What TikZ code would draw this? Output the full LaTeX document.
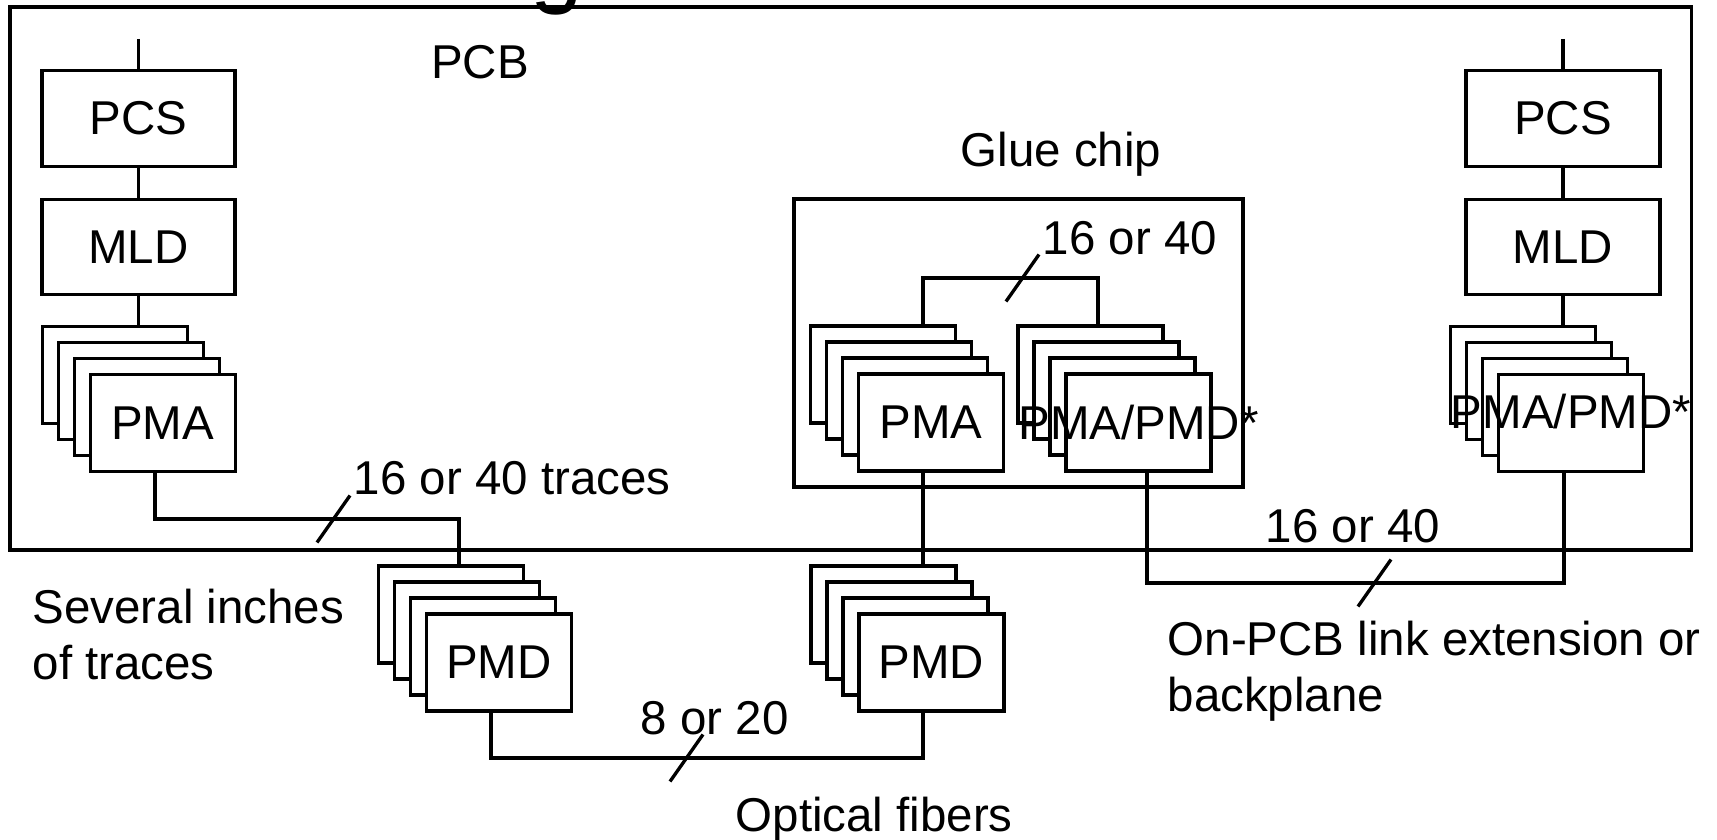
\documentclass[tikz,border=0pt]{standalone}
\usepackage{fontspec}
\setmainfont{Liberation Sans}
\usetikzlibrary{positioning}
\definecolor{pLine}{RGB}{0,0,0}
\tikzset{
	frame/.style={draw=pLine, line width=0.95pt, inner sep=0pt},
	card/.style={draw=pLine, fill=white, line width=0.95pt, inner sep=0pt,
		minimum width=1.45cm, minimum height=0.97cm,
		font=\fontsize{13.5pt}{16.2pt}\selectfont},
	lbl/.style={inner sep=0pt, font=\fontsize{13.5pt}{16.2pt}\selectfont},
	wire/.style={draw=pLine, line width=0.95pt}
}
\newcommand{\cardstack}[3]{%
	\foreach \k in {1,...,4}
		\node[card] (#1\k) at ({#2+16*(\k-1)},{#3+16*(\k-1)}) {};}
\newcommand{\slashmark}[1]{\draw[wire] (#1) ++(-16.5,23.5) -- ++(33,-47);}

\begin{document}
\begin{tikzpicture}[x=0.01cm, y=-0.01cm]
	\useasboundingbox (0,0) rectangle (1717,840);

	\node[lbl, font=\fontsize{27pt}{30pt}\selectfont, anchor=base west] (ttl) at (530,-4) {g};

	\node[frame, minimum width=16.805cm, minimum height=5.43cm] (pcb) at (850.75,278.5) {};
	\node[lbl, anchor=base] (pcbT) at (480,79) {PCB};

	% left column
	\node[card, minimum width=1.93cm, minimum height=0.955cm] (pcsL) at (138.5,118.5) {PCS};
	\node[card, minimum width=1.93cm, minimum height=0.955cm] (mldL) at (138.5,247) {MLD};
	\cardstack{pmaL}{114.75}{375}
	\node[lbl] (pmaLt) at (pmaL4) {PMA};

	% right column
	\node[card, minimum width=1.94cm, minimum height=0.955cm] (pcsR) at (1563,118.5) {PCS};
	\node[card, minimum width=1.94cm, minimum height=0.955cm] (mldR) at (1563,247) {MLD};
	\cardstack{pmaR}{1523}{375}
	\node[lbl, yshift=0.11cm] (pmaRt) at (pmaR4) {PMA/PMD*};

	% glue chip
	\node[frame, minimum width=4.49cm, minimum height=2.88cm] (glue) at (1018.5,343) {};
	\node[lbl, anchor=base west] (glueT) at (960,167) {Glue chip};
	\cardstack{pmaG}{883}{374.5}
	\node[lbl] (pmaGt) at (pmaG4) {PMA};
	\cardstack{pmpG}{1090.5}{374.5}
	\node[lbl] (pmpGt) at (pmpG4) {PMA/PMD*};

	% PMD stacks
	\cardstack{pmdL}{451}{614.5}
	\node[lbl] (pmdLt) at (pmdL4) {PMD};
	\cardstack{pmdR}{883.5}{614.5}
	\node[lbl] (pmdRt) at (pmdR4) {PMD};

	\coordinate (topL) at (138.5,39);
	\coordinate (topR) at (1563,39);
	\draw[wire] (topL) -- (pcsL.north);
	\draw[wire] (pcsL.south) -- (mldL.north);
	\draw[wire] (mldL.south) -- (mldL.south |- pmaL1.north);
	\draw[wire] (topR) -- (pcsR.north);
	\draw[wire] (pcsR.south) -- (mldR.north);
	\draw[wire] (mldR.south) -- (mldR.south |- pmaR1.north);

	\coordinate (trA) at (155,519);
	\coordinate (trB) at (459,519);
	\draw[wire] (trA |- pmaL4.south) -- (trA) -- (trB) -- (trB |- pmdL1.north);

	\coordinate (brL) at (923,278);
	\coordinate (brR) at (1098,278);
	\draw[wire] (brL |- pmaG1.north) -- (brL) -- (brR) -- (brR |- pmpG1.north);
	\draw[wire] (brL |- pmaG4.south) -- (brL |- pmdR1.north);

	\coordinate (bpA) at (1147,583);
	\coordinate (bpB) at (1564,583);
	\draw[wire] (bpA |- pmpG4.south) -- (bpA) -- (bpB) -- (bpB |- pmaR4.south);

	\coordinate (ofA) at (491,758);
	\coordinate (ofB) at (923,758);
	\draw[wire] (ofA |- pmdL4.south) -- (ofA) -- (ofB) -- (ofB |- pmdR4.south);

	\coordinate (tkTr) at (333.5,519);
	\coordinate (tkGl) at (1022.5,278);
	\coordinate (tkOf) at (686.5,758);
	\coordinate (tkBp) at (1374.5,583);
	\slashmark{tkTr}
	\slashmark{tkGl}
	\slashmark{tkOf}
	\slashmark{tkBp}

	\node[lbl, anchor=base west] (trT) at (353,495) {16 or 40 traces};
	\node[lbl, anchor=base west, align=left] (sevT) at (32,680) {Several inches\\of traces};
	\node[lbl, anchor=base west] (glT) at (1042,255) {16 or 40};
	\node[lbl, anchor=base west] (ofT) at (640,735) {8 or 20};
	\node[lbl, anchor=base west] (opT) at (735,832) {Optical fibers};
	\node[lbl, anchor=base west] (bpT) at (1265,543) {16 or 40};
	\node[lbl, anchor=base west, align=left] (onT) at (1167,712) {On-PCB link extension or\\backplane};
\end{tikzpicture}
\end{document}
